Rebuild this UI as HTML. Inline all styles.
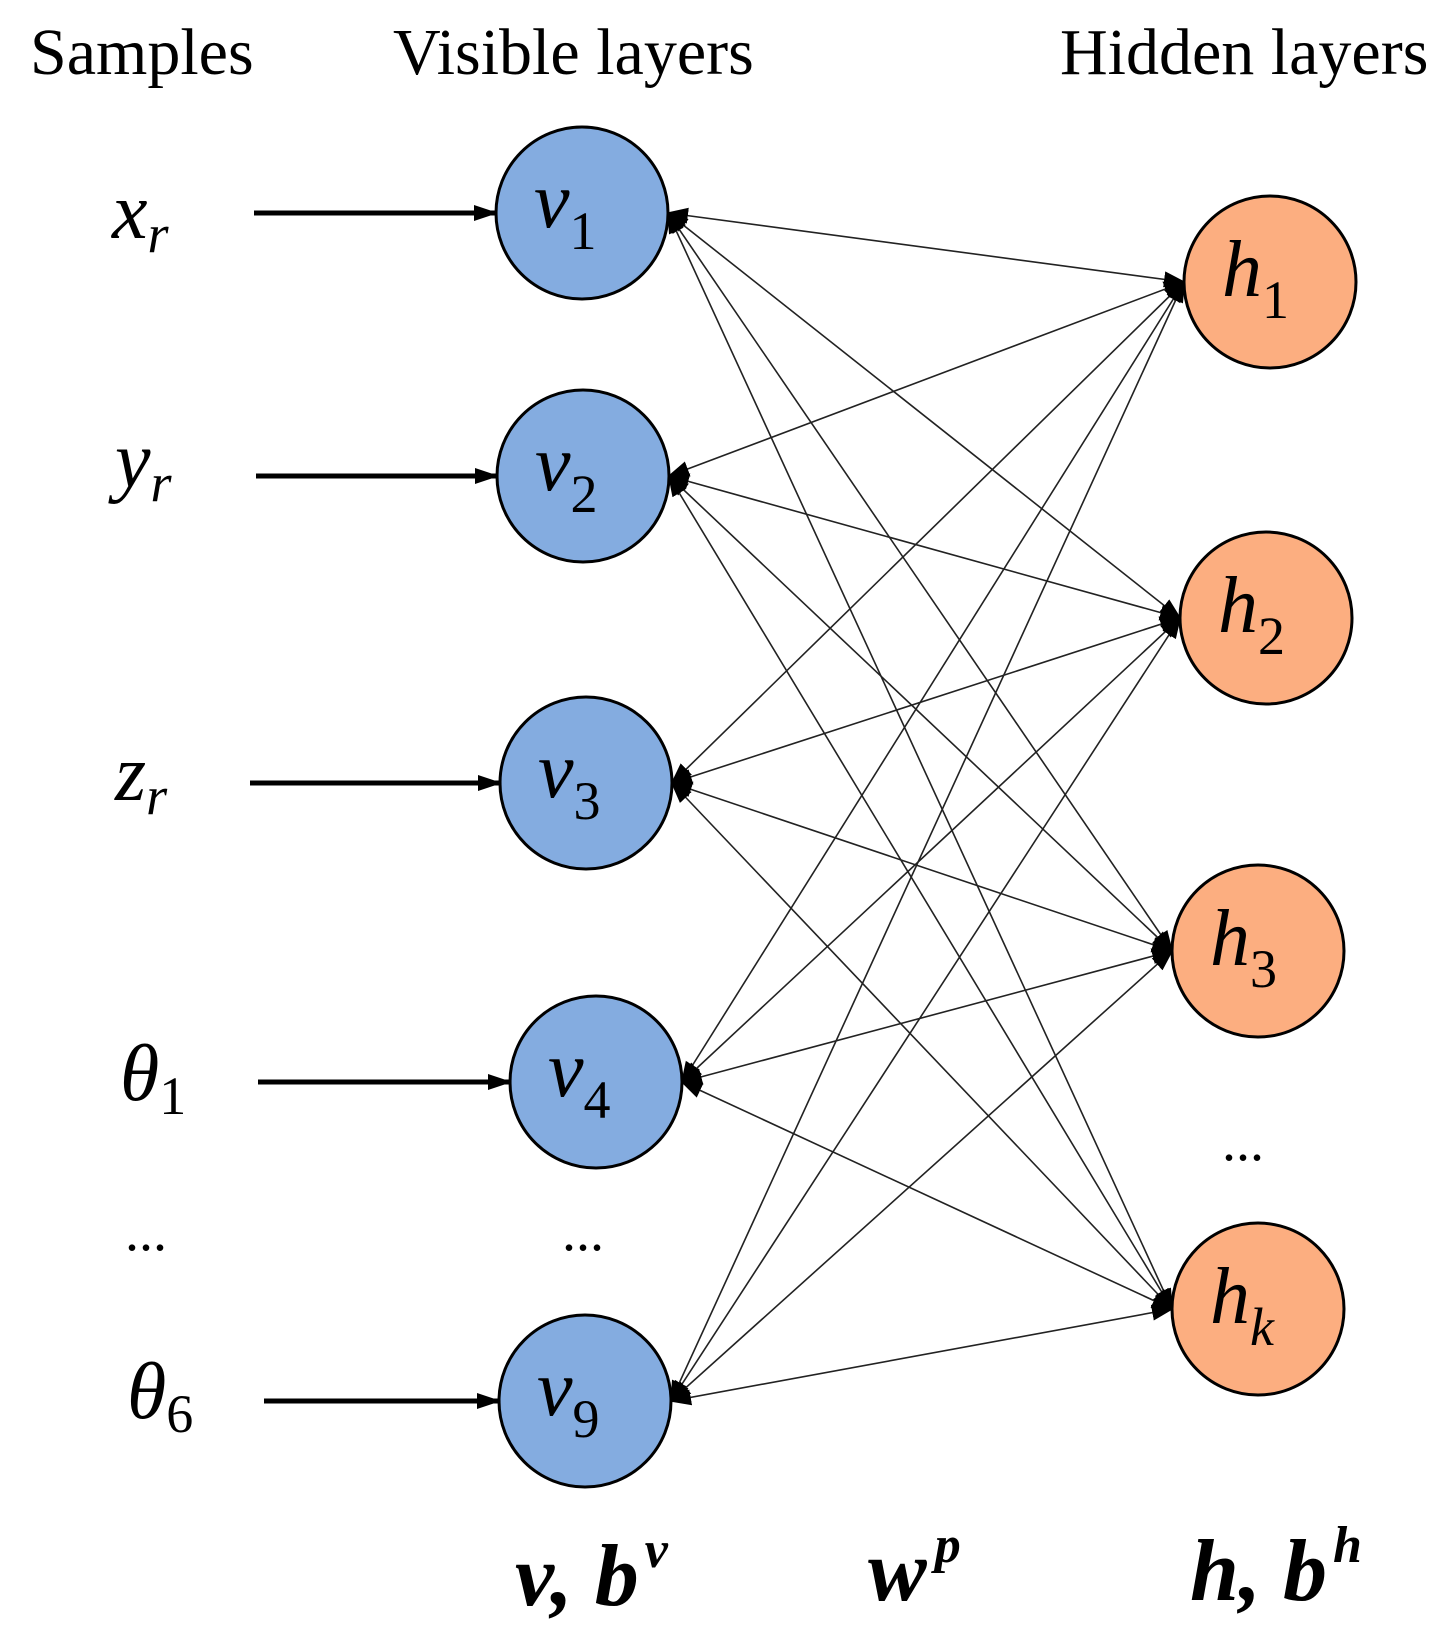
<!DOCTYPE html>
<html><head><meta charset="utf-8"><style>
html,body{margin:0;padding:0;background:#fff;}
svg{display:block;}
text{font-family:"Liberation Serif",serif;}
.m{font-style:italic;font-size:80px;}
.s{font-size:54px;font-style:normal;}
.si{font-size:54px;font-style:italic;}
</style></head><body>
<svg width="1455" height="1651" viewBox="0 0 1455 1651" xmlns="http://www.w3.org/2000/svg">
<defs>
<marker id="b" markerWidth="22" markerHeight="22" refX="20" refY="11" orient="auto-start-reverse" markerUnits="userSpaceOnUse" viewBox="0 0 22 22"><path d="M0,3 L22,11 L0,19z" fill="#000"/></marker>
<marker id="c" markerWidth="24" markerHeight="20" refX="22" refY="10" orient="auto" markerUnits="userSpaceOnUse" viewBox="0 0 24 20"><path d="M0,2 L24,10 L0,18z" fill="#000"/></marker>
</defs>
<text x="30" y="74" font-size="66">Samples</text>
<text x="393" y="74" font-size="66">Visible layers</text>
<text x="1060" y="74" font-size="66">Hidden layers</text>
<g stroke="#222" stroke-width="1.6" fill="none" id="L"></g>
<g id="N"></g>
<text class="m" x="112" y="238">x<tspan class="si" dy="14">r</tspan></text>
<text class="m" x="115" y="487">y<tspan class="si" dy="14">r</tspan></text>
<text class="m" x="115" y="800">z<tspan class="si" dy="14">r</tspan></text>
<text class="m" x="120" y="1100">θ<tspan class="s" dy="14">1</tspan></text>
<text x="125" y="1250" font-size="56">...</text>
<text x="562" y="1250" font-size="56">...</text>
<text x="1222" y="1160" font-size="56">...</text>
<text class="m" x="127" y="1418">θ<tspan class="s" dy="14">6</tspan></text>
<text x="515" y="1605" font-size="88" font-style="italic" font-weight="bold">v, b<tspan font-size="52" dy="-38" dx="6">v</tspan></text>
<text x="868" y="1600" font-size="88" font-style="italic" font-weight="bold">w<tspan font-size="52" dy="-38" dx="8">p</tspan></text>
<text x="1190" y="1600" font-size="88" font-style="italic" font-weight="bold">h, b<tspan font-size="52" dy="-38" dx="6">h</tspan></text>
</svg>
<script>
var NS="http://www.w3.org/2000/svg";
var V=[[582,213,"v","1"],[583,476,"v","2"],[586,783,"v","3"],[596,1082,"v","4"],[585,1401,"v","9"]];
var H=[[1270,282,"h","1"],[1266,618,"h","2"],[1258,951,"h","3"],[1258,1309,"h","k"]];
var r=86,L=document.getElementById("L"),N=document.getElementById("N"),svg=document.querySelector("svg");
function el(t,a,p){var e=document.createElementNS(NS,t);for(var k in a)e.setAttribute(k,a[k]);p.appendChild(e);return e;}
V.forEach(function(v){H.forEach(function(h){
 el("line",{x1:v[0]+r,y1:v[1],x2:h[0]-r,y2:h[1],"marker-start":"url(#b)","marker-end":"url(#b)"},L);});});
var sx=[254,256,250,258,264];
V.forEach(function(v,i){el("line",{x1:sx[i],y1:v[1],x2:v[0]-r,y2:v[1],stroke:"#000","stroke-width":5,"marker-end":"url(#c)"},svg);});
function node(n,fill){el("circle",{cx:n[0],cy:n[1],r:r,fill:fill,stroke:"#000","stroke-width":3},N);
 var t=el("text",{x:n[0]-48,y:n[1]+14,"class":"m"},N);t.textContent=n[2];
 var s=el("tspan",{"class":n[3]=="k"?"si":"s",dy:22},t);s.textContent=n[3];}
V.forEach(function(v){node(v,"#84ace0");});
H.forEach(function(h){node(h,"#fcae80");});
</script>
</body></html>
